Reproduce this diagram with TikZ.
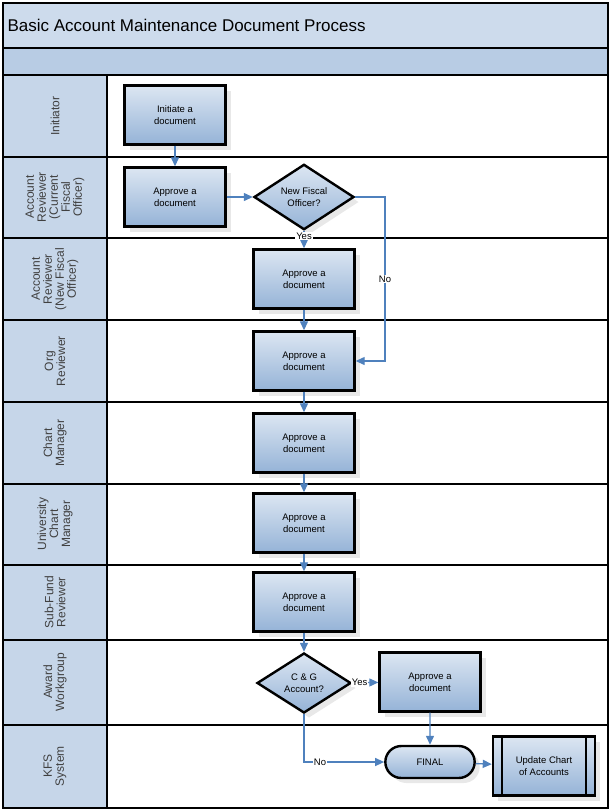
\documentclass[tikz,border=0pt]{standalone}
\usepackage{fontspec}
\setmainfont{Liberation Sans}
\usetikzlibrary{shapes.geometric,shapes.misc,shadows,arrows.meta}
\definecolor{laneblue}{HTML}{B8CCE4}
\definecolor{boxlight}{HTML}{DCE6F2}
\definecolor{boxdark}{HTML}{95B3D7}
\definecolor{flowblue}{HTML}{4F81BD}
\tikzset{
  procbox/.style={draw, line width=2.4pt, minimum width=101pt, minimum height=59pt,
    align=center, font=\fontsize{9.5}{12}\selectfont, top color=boxlight, bottom color=boxdark,
    drop shadow={shadow xshift=5pt, shadow yshift=-5pt, fill=gray!35}},
  decide/.style={procbox, diamond, minimum width=100pt, minimum height=58pt, inner sep=0pt},
  flow/.style={draw=flowblue, line width=1.3pt, -{Triangle[length=9pt,width=8pt]}},
  lbl/.style={fill=white, inner sep=1pt, font=\fontsize{9.5}{12}\selectfont},
  lane/.style={rotate=90, align=center, font=\fontsize{12}{12}\selectfont, text=black!75}
}
\begin{document}
\begin{tikzpicture}[x=1pt,y=-1pt]
  \useasboundingbox (0,0) rectangle (613,812);
  % ------------------- Header bands ------------------- %
  \fill[laneblue!70] (3,3) rectangle (608,48);
  \fill[laneblue] (3,48) rectangle (608,75);
  \fill[laneblue!80] (3,75) rectangle (107,808);
  \node[anchor=west, font=\fontsize{17}{17}\selectfont] (title) at (4,25) {Basic Account Maintenance Document Process};
  % ------------------- Lanes ------------------- %
  \foreach \y in {48,75,157,238,320,402,484,565,640,725}
    \draw[line width=2.4pt] (3,\y) -- (608,\y);
  \draw[line width=2.4pt] (107,75) -- (107,808);
  \draw[line width=2.6pt] (3,3) rectangle (608,808);
  \foreach \t/\y in {Initiator/116, Account\\Reviewer\\(Current\\Fiscal\\Officer)/197,
      Account\\Reviewer\\(New Fiscal\\Officer)/279, Org\\Reviewer/361, Chart\\Manager/443,
      University\\Chart\\Manager/524, Sub-Fund\\Reviewer/602, Award\\Workgroup/682, KFS\\System/766}
    \node[lane] at (55,\y) {\t};
  % ------------------- Steps ------------------- %
  \node[procbox] (init) at (175,115) {Initiate a\\document};
  \node[procbox] (cur) at (175,197) {Approve a\\document};
  \node[decide] (newfo) at (304,197) {New Fiscal\\Officer?};
  \node[procbox] (newrev) at (304,279) {Approve a\\document};
  \node[procbox] (org) at (304,361) {Approve a\\document};
  \node[procbox] (chart) at (304,443) {Approve a\\document};
  \node[procbox] (univ) at (304,523) {Approve a\\document};
  \node[procbox] (subfund) at (304,602) {Approve a\\document};
  \node[decide, minimum width=94pt, minimum height=60pt] (cg) at (304,683) {C \& G\\Account?};
  \node[procbox] (award) at (430,682) {Approve a\\document};
  \node[procbox, rounded rectangle, minimum width=96pt, minimum height=32pt] (final) at (430,762) {FINAL};
  \node[procbox, minimum width=102pt, minimum height=59pt] (update) at (544,766) {Update Chart\\of Accounts};
  \draw[line width=2.4pt] ([xshift=10pt]update.north west) -- ([xshift=10pt]update.south west)
    ([xshift=-10pt]update.north east) -- ([xshift=-10pt]update.south east);
  \coordinate (nocorner) at (385,361);
  % ------------------- Connectors ------------------- %
  \draw[flow] (init) -- (cur);
  \draw[flow] (cur) -- (newfo);
  \draw[flow] (newfo) -- node[lbl, pos=0.3] {Yes} (newrev);
  \draw[flow] (newfo.east) -| node[lbl, pos=0.75] {No} (nocorner) -- (org.east);
  \draw[flow] (newrev) -- (org);
  \draw[flow] (org) -- (chart);
  \draw[flow] (chart) -- (univ);
  \draw[flow] (univ) -- (subfund);
  \draw[flow] (subfund) -- (cg);
  \draw[flow] (cg) -- node[lbl, pos=0.3] {Yes} (award);
  \draw[flow] (award) -- (final);
  \draw[flow] (cg.south) |- node[lbl, pos=0.6] {No} (final.west);
  \draw[flow] (final) -- (update);
\end{tikzpicture}
\end{document}
